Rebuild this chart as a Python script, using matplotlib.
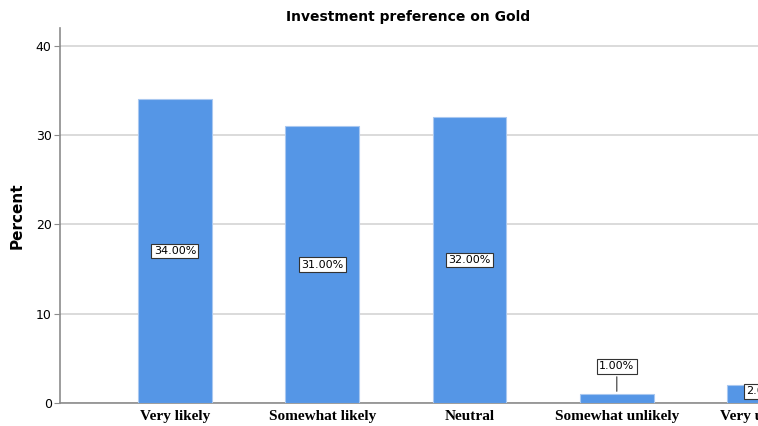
import matplotlib.pyplot as plt

categories = ["Very likely", "Somewhat likely", "Neutral", "Somewhat unlikely", "Very unlikely"]
percent = [34, 31, 32, 1, 2]
bar_labels = ["34.00%", "31.00%", "32.00%", "1.00%", "2.00%"]

fig = plt.figure(figsize=(7.58, 4.26), dpi=100)
# axes run past the right edge, like the cropped original
ax = fig.add_axes([60 / 758, 23 / 426, 819 / 758, 375 / 426])

x = range(len(categories))
ax.bar(x, percent, width=0.5, color="#5596e6", edgecolor="#a9c8f0", linewidth=0.8, zorder=3)

ax.set_xlim(-0.78, 4.78)
ax.set_ylim(0, 42)
ax.set_yticks([0, 10, 20, 30, 40])
ax.yaxis.grid(True, color="#d4d4d4", linewidth=1.2, zorder=0)
ax.set_axisbelow(True)

for s in ["top", "right"]:
    ax.spines[s].set_visible(False)
for s in ["left", "bottom"]:
    ax.spines[s].set_color("#8c8c8c")
    ax.spines[s].set_linewidth(1.2)

ax.tick_params(axis="y", labelsize=9, length=4, color="#8c8c8c", pad=2)
ax.tick_params(axis="x", length=0, pad=5)
ax.set_xticks(list(x))
ax.set_xticklabels(categories, fontfamily="Liberation Serif", fontweight="bold", fontsize=11)

ax.set_ylabel("Percent", fontsize=11, fontweight="bold", labelpad=8)

box = dict(boxstyle="square,pad=0.2", fc="white", ec="#333333", lw=0.8)
for i, (v, lab) in enumerate(zip(percent, bar_labels)):
    if i == 3:
        ax.annotate(lab, xy=(i, v), xytext=(i, v + 3.1), ha="center", va="center",
                    fontsize=8, bbox=box,
                    arrowprops=dict(arrowstyle="-", color="#333333", lw=0.8), zorder=5)
    elif i == 4:
        ax.text(i, v / 2 + 0.3, lab, ha="center", va="center", fontsize=8, bbox=box, zorder=5)
    else:
        ax.text(i, v / 2, lab, ha="center", va="center", fontsize=8, bbox=box, zorder=5)

fig.text(408 / 758, 1 - 17 / 426, "Investment preference on Gold", ha="center", va="center",
         fontsize=10, fontweight="bold")

fig.savefig("out.png", dpi=100)
